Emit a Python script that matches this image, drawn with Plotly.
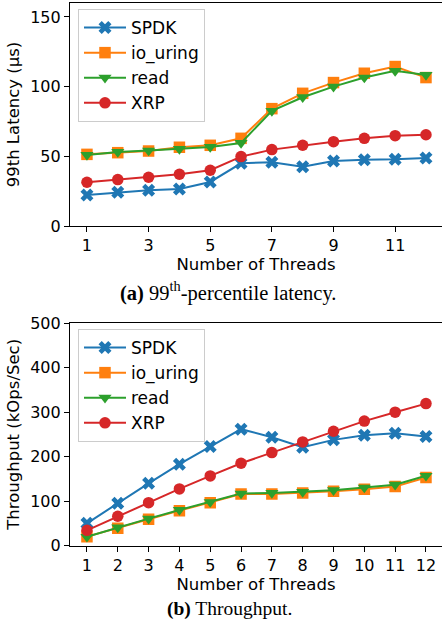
import plotly.graph_objects as go

threads = [1, 2, 3, 4, 5, 6, 7, 8, 9, 10, 11, 12]

lat_spdk = [22.3, 24.2, 25.6, 26.6, 31.6, 45.0, 45.7, 42.6, 46.7, 47.6, 47.9, 48.8]
lat_iouring = [51.4, 52.6, 53.8, 56.5, 57.9, 62.9, 84.2, 95.2, 102.9, 109.6, 114.4, 106.5]
lat_read = [51.0, 53.1, 54.1, 55.3, 56.7, 59.6, 82.6, 92.4, 100.0, 106.5, 111.3, 108.4]
lat_xrp = [31.4, 33.3, 35.0, 37.1, 40.0, 49.8, 54.8, 57.9, 60.5, 62.9, 64.8, 65.5]

tp_spdk = [50.3, 95.3, 140.0, 183.0, 222.6, 261.6, 243.6, 221.0, 237.6, 248.0, 252.6, 245.0]
tp_iouring = [20.3, 39.0, 59.3, 78.7, 96.7, 116.0, 116.0, 118.5, 122.0, 126.7, 132.7, 153.0]
tp_read = [20.0, 41.0, 60.7, 80.3, 98.0, 117.0, 118.5, 120.7, 124.5, 130.4, 137.0, 157.0]
tp_xrp = [34.5, 66.0, 96.7, 127.5, 156.7, 185.0, 209.0, 233.0, 257.0, 279.7, 299.8, 319.0]

series_names = ["SPDK", "io_uring", "read", "XRP"]
colors = ["#1f77b4", "#ff7f0e", "#2ca02c", "#d62728"]
symbols = ["x", "square", "triangle-down", "circle"]

top_xticks = [1, 3, 5, 7, 9, 11]
bottom_xticks = threads
top_yticks = [0, 50, 100, 150]
bottom_yticks = [0, 100, 200, 300, 400, 500]

caption_a = "<b>(a)</b> 99<sup>th</sup>-percentile latency."
caption_b = "<b>(b)</b> Throughput."

W, H = 442, 623
fig = go.Figure()

lat_data = [lat_spdk, lat_iouring, lat_read, lat_xrp]
tp_data = [tp_spdk, tp_iouring, tp_read, tp_xrp]

for name, col, sym, ys in zip(series_names, colors, symbols, lat_data):
    fig.add_trace(go.Scatter(
        x=threads, y=ys, name=name, mode="lines+markers",
        line=dict(color=col, width=2),
        marker=dict(symbol=sym, size=11.5, color=col, line=dict(width=0)),
        xaxis="x", yaxis="y", legend="legend",
    ))
for name, col, sym, ys in zip(series_names, colors, symbols, tp_data):
    fig.add_trace(go.Scatter(
        x=threads, y=ys, name=name, mode="lines+markers",
        line=dict(color=col, width=2),
        marker=dict(symbol=sym, size=11.5, color=col, line=dict(width=0)),
        xaxis="x2", yaxis="y2", legend="legend2",
    ))

ML = 70
pw = W - ML


def py(p):
    return (H - p) / H


tick_font = dict(family="DejaVu Sans", size=16, color="black")
title_font = dict(family="DejaVu Sans", size=16.5, color="black")
axis_common = dict(
    showline=True, linecolor="black", linewidth=1.2, ticks="outside",
    ticklen=5, tickwidth=1.2, tickcolor="black", showgrid=False,
    zeroline=False, tickfont=tick_font, automargin=False,
)
legend_common = dict(
    xanchor="left", yanchor="top",
    bgcolor="rgba(255,255,255,0.8)", bordercolor="#cccccc", borderwidth=1,
    font=dict(family="DejaVu Sans", size=17, color="black"),
    tracegroupgap=0, itemwidth=42,
)

fig.update_layout(
    width=W, height=H,
    margin=dict(l=ML, r=0, t=0, b=0, autoexpand=False),
    paper_bgcolor="white", plot_bgcolor="white",
    xaxis=dict(domain=[0, 1], anchor="y", range=[0.45, 12.52], tickvals=top_xticks,
               mirror=True, title=dict(text="Number of Threads", font=title_font, standoff=2),
               **axis_common),
    yaxis=dict(domain=[py(226), py(3)], anchor="x", range=[0, 160], tickvals=top_yticks,
               title=dict(text="99th Latency (µs)", font=title_font, standoff=6),
               **axis_common),
    xaxis2=dict(domain=[0, 1], anchor="y2", range=[0.45, 12.52], tickvals=bottom_xticks,
                mirror=True, title=dict(text="Number of Threads", font=title_font, standoff=2),
                **axis_common),
    yaxis2=dict(domain=[py(545.7), py(323)], anchor="x2", range=[0, 500], tickvals=bottom_yticks,
                title=dict(text="Throughput (kOps/Sec)", font=title_font, standoff=6),
                **axis_common),
    legend=dict(x=(78 - ML) / pw, y=py(9), **legend_common),
    legend2=dict(x=(78 - ML) / pw, y=py(329), **legend_common),
    annotations=[
        dict(text=caption_a, xref="paper", yref="paper", x=(228 - ML) / pw, y=py(291),
             xanchor="center", yanchor="middle", showarrow=False,
             font=dict(family="Liberation Serif", size=20.5, color="black")),
        dict(text=caption_b, xref="paper", yref="paper", x=(229 - ML) / pw, y=py(609),
             xanchor="center", yanchor="middle", showarrow=False,
             font=dict(family="Liberation Serif", size=19.5, color="black")),
    ],
)

fig.write_html(
    "out.html",
    config={"displayModeBar": False},
    post_script="document.body.style.margin='0';document.body.style.overflow='hidden';",
)
